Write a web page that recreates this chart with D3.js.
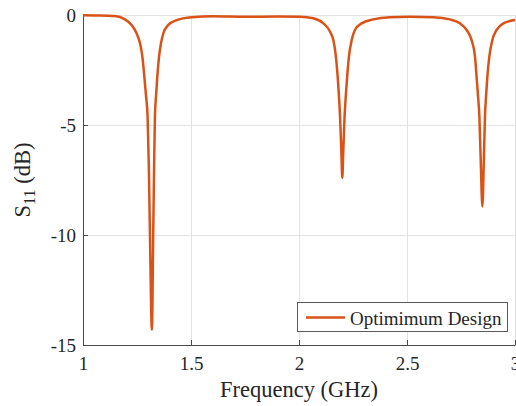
<!DOCTYPE html>
<html>
<head>
<meta charset="utf-8">
<script src="https://cdn.jsdelivr.net/npm/d3@7"></script>
<style>
  body { margin: 0; background: #fff; }
  text { font-family: "Liberation Serif", "Times New Roman", serif; fill: #262626; }
</style>
</head>
<body>
<div id="chart"></div>
<script>
// Define SVG area dimensions
var svgWidth = 516;
var svgHeight = 406;

// Chart margins
var margin = { top: 15, right: 1, bottom: 61, left: 83 };

var chartWidth = svgWidth - margin.left - margin.right;
var chartHeight = svgHeight - margin.top - margin.bottom;

// Data (frequency in GHz, S11 in dB)
var freq = [1.00, 1.056, 1.148, 1.194, 1.225, 1.248, 1.264, 1.275, 1.284, 1.292, 1.299, 1.305, 1.310, 1.319,
  1.325, 1.329, 1.333, 1.338, 1.344, 1.352, 1.361, 1.372, 1.395, 1.434, 1.503, 1.603, 1.75, 1.9,
  2.005, 2.066, 2.113, 2.144, 2.159, 2.171, 2.179, 2.185, 2.190, 2.196, 2.2005,
  2.205, 2.211, 2.2165, 2.223, 2.231, 2.244, 2.259, 2.290, 2.344, 2.421, 2.514,
  2.622, 2.699, 2.745, 2.776, 2.799, 2.815, 2.822, 2.829, 2.835, 2.841, 2.849,
  2.856, 2.861, 2.866, 2.872, 2.881, 2.895, 2.915, 2.946, 3.0];
var s11 = [-0.01, -0.02, -0.05, -0.2, -0.45, -0.83, -1.29, -1.9, -2.8, -3.7, -4.6, -7, -10, -14.3,
  -10, -7, -4.6, -3.7, -2.8, -1.9, -1.29, -0.83, -0.45, -0.23, -0.1, -0.06, -0.08, -0.07,
  -0.08, -0.15, -0.38, -0.76, -1.14, -1.9, -2.8, -3.7, -4.6, -6.2, -7.4,
  -6.2, -4.6, -3.7, -2.8, -1.9, -1.14, -0.68, -0.38, -0.2, -0.1, -0.08,
  -0.1, -0.2, -0.38, -0.68, -1.14, -1.9, -2.8, -3.7, -4.6, -6.5, -8.7,
  -6.5, -4.6, -3.7, -2.8, -1.9, -1.14, -0.68, -0.38, -0.23];

var xTicks = [1, 1.5, 2, 2.5, 3];
var yTicks = [0, -5, -10, -15];
var seriesName = "Optimimum Design";

var data = freq.map(function(f, i) { return { f: f, s: s11[i] }; });

var svg = d3.select("#chart")
  .append("svg")
  .attr("width", svgWidth)
  .attr("height", svgHeight);

var chartGroup = svg.append("g")
  .attr("transform", `translate(${margin.left}, ${margin.top})`);

var xLinearScale = d3.scaleLinear().domain([1, 3]).range([0, chartWidth]);
var yLinearScale = d3.scaleLinear().domain([-15, 0]).range([chartHeight, 0]);

// Grid lines
chartGroup.append("g")
  .selectAll("line.vg")
  .data(xTicks)
  .enter()
  .append("line")
  .attr("x1", d => xLinearScale(d)).attr("x2", d => xLinearScale(d))
  .attr("y1", 0).attr("y2", chartHeight)
  .attr("stroke", "#e3e3e3").attr("stroke-width", 1)
  .attr("shape-rendering", "crispEdges");

chartGroup.append("g")
  .selectAll("line.hg")
  .data(yTicks)
  .enter()
  .append("line")
  .attr("x1", 0).attr("x2", chartWidth)
  .attr("y1", d => yLinearScale(d)).attr("y2", d => yLinearScale(d))
  .attr("stroke", "#e3e3e3").attr("stroke-width", 1)
  .attr("shape-rendering", "crispEdges");

// Axes (ticks pointing inward)
var bottomAxis = d3.axisBottom(xLinearScale)
  .tickValues(xTicks)
  .tickFormat(d3.format("~g"))
  .tickSizeInner(-5)
  .tickSizeOuter(0)
  .tickPadding(12);

var leftAxis = d3.axisLeft(yLinearScale)
  .tickValues(yTicks)
  .tickFormat(d => d === 0 ? "0" : "-" + Math.abs(d))
  .tickSizeInner(-5)
  .tickSizeOuter(0)
  .tickPadding(7);

var xAxis = chartGroup.append("g")
  .attr("transform", `translate(0, ${chartHeight})`)
  .call(bottomAxis);

var yAxis = chartGroup.append("g")
  .call(leftAxis);

[xAxis, yAxis].forEach(function(ax) {
  ax.selectAll("path, line").attr("stroke", "#4a4a4a").attr("stroke-width", 1);
  ax.selectAll("text")
    .attr("font-family", "Liberation Serif, serif")
    .attr("font-size", "19px")
    .attr("fill", "#262626");
});

// The curve
var line = d3.line()
  .x(d => xLinearScale(d.f))
  .y(d => yLinearScale(d.s))
  .curve(d3.curveMonotoneX);

chartGroup.append("path")
  .datum(data)
  .attr("d", line)
  .attr("fill", "none")
  .attr("stroke", "#D95319")
  .attr("stroke-width", 2.5)
  .attr("stroke-linejoin", "round");

// Axis titles
svg.append("text")
  .attr("x", margin.left + xLinearScale(2))
  .attr("y", 397)
  .attr("text-anchor", "middle")
  .attr("font-size", "22.5px")
  .text("Frequency (GHz)");

var yLabel = svg.append("text")
  .attr("transform", `translate(30, 180) rotate(-90)`)
  .attr("text-anchor", "middle")
  .attr("font-size", "22.5px");
yLabel.append("tspan").text("S");
yLabel.append("tspan").attr("dy", 5).attr("font-size", "16px").text("11");
yLabel.append("tspan").attr("dy", -5).text(" (dB)");

// Legend
var legend = svg.append("g");
legend.append("rect")
  .attr("x", 297.5).attr("y", 302.5)
  .attr("width", 210).attr("height", 29)
  .attr("fill", "#fff")
  .attr("stroke", "#5a5a5a")
  .attr("stroke-width", 1);
legend.append("line")
  .attr("x1", 306).attr("x2", 345)
  .attr("y1", 317.5).attr("y2", 317.5)
  .attr("stroke", "#D95319")
  .attr("stroke-width", 2.5);
legend.append("text")
  .attr("x", 350).attr("y", 325)
  .attr("font-size", "19px")
  .text(seriesName);
</script>
</body>
</html>
